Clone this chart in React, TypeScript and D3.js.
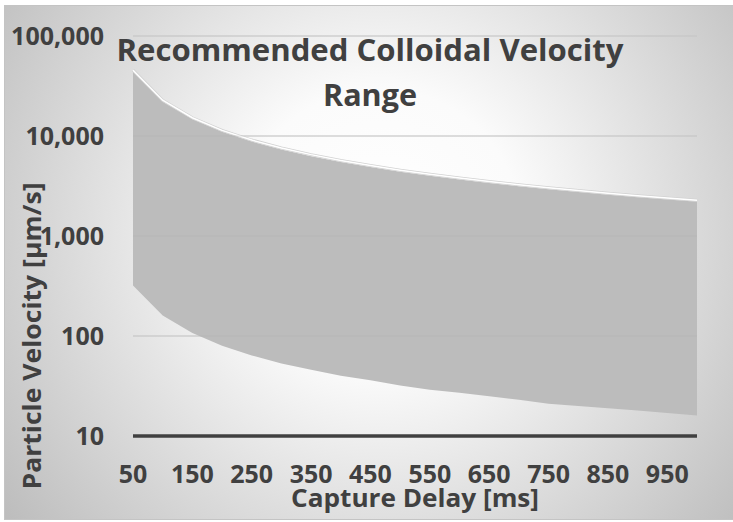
import * as d3 from 'd3'

// capture delay [ms]
const delays = [50, 100, 150, 200, 250, 300, 350, 400, 450, 500, 550, 600, 650, 700, 750, 800, 850, 900, 950, 1000]
// upper / lower recommended particle velocity [µm/s]
const upperVelocity = [44000, 22000, 14700, 11000, 8800, 7330, 6290, 5500, 4890, 4400, 4000, 3670, 3390, 3140, 2930, 2750, 2590, 2440, 2320, 2200]
const lowerVelocity = [320, 160, 107, 80, 64, 53, 46, 40, 36, 32, 29, 27, 25, 23, 21, 20, 19, 18, 17, 16]
const xTickLabels = [50, 150, 250, 350, 450, 550, 650, 750, 850, 950]
const yTickValues = [10, 100, 1000, 10000, 100000]

const W = 733
const H = 522
const font = '"Open Sans", "DejaVu Sans", sans-serif'
const ink = '#404040'

export default function App() {
  const left = 133
  const right = 697
  const top = 36
  const bottom = 436

  const x = d3.scaleLinear().domain([50, 1000]).range([left, right])
  const y = d3.scaleLog().domain([10, 100000]).range([bottom, top])

  const rows = delays.map((d, i) => ({ d, hi: upperVelocity[i], lo: lowerVelocity[i] }))

  const band = d3.area<any>()
    .x(r => x(r.d))
    .y0(r => y(r.lo))
    .y1(r => y(r.hi))
  const upperLine = d3.line<any>()
    .x(r => x(r.d))
    .y(r => y(r.hi))

  const fmt = d3.format(',')

  return (
    <div style={{ position: 'absolute', left: 0, top: 0 }}>
      <svg width={W} height={H} style={{ display: 'block' }}>
        <defs>
          <radialGradient id="bg" gradientUnits="userSpaceOnUse" cx={380} cy={230} r={470}>
            <stop offset="0%" stopColor="#ffffff" />
            <stop offset="30%" stopColor="#fbfbfb" />
            <stop offset="100%" stopColor="#bdbdbd" />
          </radialGradient>
        </defs>
        <rect x={0} y={0} width={W} height={H} fill="#ffffff" />
        <rect x={4.5} y={5.5} width={W + 10} height={514} fill="url(#bg)" stroke="#c4c4c4" strokeWidth={1} />

        {/* gridlines */}
        {yTickValues.slice(1).map(v => (
          <line key={v} x1={left} x2={right} y1={y(v)} y2={y(v)} stroke="#cfcfcf" strokeWidth={1.2} />
        ))}

        {/* band */}
        <path d={band(rows) || ''} fill="#bcbcbc" />
        <g transform="translate(0,-1.5)">
          <path d={upperLine(rows) || ''} fill="none" stroke="#d2d2d2" strokeWidth={3} />
          <path d={upperLine(rows) || ''} fill="none" stroke="#ffffff" strokeWidth={1.5} />
        </g>

        {/* gridlines faintly over the band */}
        {yTickValues.slice(1).map(v => (
          <line key={'o' + v} x1={left} x2={right} y1={y(v)} y2={y(v)} stroke="#b0b0b0" strokeOpacity={0.35} strokeWidth={1} />
        ))}

        {/* x axis line at 10 */}
        <line x1={left} x2={right} y1={y(10)} y2={y(10)} stroke={ink} strokeWidth={3.5} />

        {/* y tick labels */}
        {yTickValues.map(v => (
          <text key={v} x={104} y={y(v) + 9} textAnchor="end" fontFamily={font} fontWeight={700} fontSize={25} fill={ink}>
            {fmt(v)}
          </text>
        ))}

        {/* x tick labels */}
        {xTickLabels.map(v => (
          <text key={v} x={x(v)} y={483} textAnchor="middle" fontFamily={font} fontWeight={700} fontSize={25} fill={ink}>
            {v}
          </text>
        ))}

        {/* title */}
        <text x={370} y={61} textAnchor="middle" fontFamily={font} fontWeight={700} fontSize={31} fill={ink}
          textLength={507} lengthAdjust="spacingAndGlyphs">
          Recommended Colloidal Velocity
        </text>
        <text x={370} y={106} textAnchor="middle" fontFamily={font} fontWeight={700} fontSize={31} fill={ink}
          textLength={94} lengthAdjust="spacingAndGlyphs">
          Range
        </text>

        {/* axis titles */}
        <text x={415} y={507} textAnchor="middle" fontFamily={font} fontWeight={700} fontSize={25} fill={ink}
          textLength={248} lengthAdjust="spacingAndGlyphs">
          Capture Delay [ms]
        </text>
        <text transform="translate(41,336) rotate(-90)" textAnchor="middle" fontFamily={font} fontWeight={700} fontSize={25} fill={ink}
          textLength={307} lengthAdjust="spacingAndGlyphs">
          Particle Velocity [µm/s]
        </text>
      </svg>
    </div>
  )
}
